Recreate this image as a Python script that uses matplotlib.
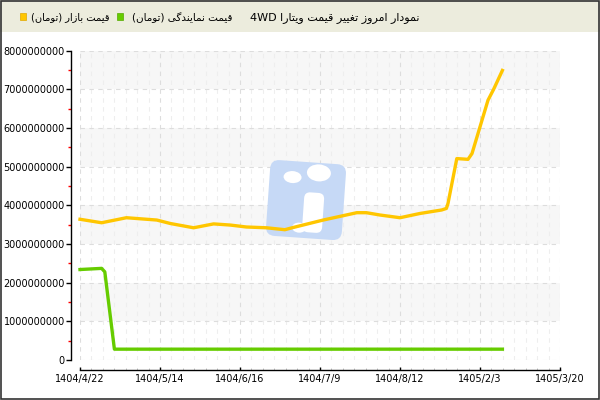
import numpy as np
import matplotlib
matplotlib.use('Agg')
import matplotlib.pyplot as plt
import matplotlib.patches as mpatches
import matplotlib.transforms as mtrans
from matplotlib.ticker import MultipleLocator, FuncFormatter

# x is measured in tick intervals (0 = 1404/4/22, 6 = 1405/3/20)
tick_labels = ['1404/4/22', '1404/5/14', '1404/6/16', '1404/7/9', '1404/8/12', '1405/2/3', '1405/3/20']

market_x = [0, 0.27, 0.58, 0.96, 1.13, 1.42, 1.67, 1.88, 2.08, 2.33, 2.56, 2.67, 3.04, 3.46,
            3.58, 3.75, 4.0, 4.25, 4.52, 4.58, 4.60, 4.71, 4.85, 4.90, 5.0, 5.10, 5.17, 5.28]
market_y = [3.64, 3.55, 3.68, 3.62, 3.53, 3.42, 3.52, 3.49, 3.44, 3.42, 3.37, 3.43, 3.62, 3.81,
            3.81, 3.75, 3.68, 3.79, 3.88, 3.92, 4.05, 5.21, 5.19, 5.34, 6.03, 6.72, 7.0, 7.49]

dealer_x = [0, 0.27, 0.31, 0.43, 5.28]
dealer_y = [2.34, 2.37, 2.28, 0.28, 0.28]

market_y = np.array(market_y) * 1e9
dealer_y = np.array(dealer_y) * 1e9

yellow = '#FFC600'
green = '#66CC00'

# simple persian shaping (presentation forms), matplotlib has no RTL layout
FORMS = {
    'ا': ('\uFE8D', '\uFE8E', None, None),
    'ب': ('\uFE8F', '\uFE90', '\uFE91', '\uFE92'),
    'ت': ('\uFE95', '\uFE96', '\uFE97', '\uFE98'),
    'د': ('\uFEA9', '\uFEAA', None, None),
    'ر': ('\uFEAD', '\uFEAE', None, None),
    'ز': ('\uFEAF', '\uFEB0', None, None),
    'غ': ('\uFECD', '\uFECE', '\uFECF', '\uFED0'),
    'ق': ('\uFED5', '\uFED6', '\uFED7', '\uFED8'),
    'م': ('\uFEE1', '\uFEE2', '\uFEE3', '\uFEE4'),
    'ن': ('\uFEE5', '\uFEE6', '\uFEE7', '\uFEE8'),
    'و': ('\uFEED', '\uFEEE', None, None),
    'ی': ('\uFBFC', '\uFBFD', '\uFBFE', '\uFBFF'),
    'گ': ('\uFB92', '\uFB93', '\uFB94', '\uFB95'),
}


def shape(word):
    out = []
    for i, ch in enumerate(word):
        f = FORMS[ch]
        prev_join = i > 0 and FORMS[word[i - 1]][2] is not None
        next_join = f[2] is not None and i < len(word) - 1
        if prev_join and next_join:
            g = f[3]
        elif prev_join:
            g = f[1]
        elif next_join:
            g = f[2]
        else:
            g = f[0]
        out.append(g)
    return ''.join(reversed(out))


title_words = ['نمودار', 'امروز', 'تغییر', 'قیمت', 'ویتارا']
title_txt = '4WD ' + ' '.join(shape(w) for w in reversed(title_words))
dealer_txt = '(' + shape('تومان') + ') ' + shape('نمایندگی') + ' ' + shape('قیمت')
market_txt = '(' + shape('تومان') + ') ' + shape('بازار') + ' ' + shape('قیمت')

plt.rcParams['font.family'] = ['DejaVu Sans']

fig = plt.figure(figsize=(6, 4), dpi=100)
ax = fig.add_axes([80 / 600, 0.1, 480 / 600, (360 - 50.7) / 400])

# header bar
fig.patches.append(mpatches.Rectangle((0, 1 - 32 / 400), 1, 32 / 400, transform=fig.transFigure,
                                      facecolor='#ECECDD', edgecolor='none', zorder=0))
fig.patches.append(mpatches.Rectangle((0.001, 0.002), 0.998, 0.996, transform=fig.transFigure,
                                      facecolor='none', edgecolor='#333333', lw=1.2, zorder=5))
ty = 1 - 17.5 / 400
fig.patches.append(mpatches.Rectangle((20 / 600, ty - 3 / 400), 6 / 600, 7 / 400, transform=fig.transFigure,
                                      facecolor=yellow, edgecolor='#E0A800', lw=0.5))
fig.patches.append(mpatches.Rectangle((117 / 600, ty - 3 / 400), 6 / 600, 7 / 400, transform=fig.transFigure,
                                      facecolor=green, edgecolor='#55AA00', lw=0.5))
fig.text(110 / 600, ty, market_txt, fontsize=7.1, va='center', ha='right')
fig.text(233 / 600, ty, dealer_txt, fontsize=7.5, va='center', ha='right')
fig.text(420 / 600, ty, title_txt, fontsize=8, va='center', ha='right')

# alternating bands
for lo in [1, 3, 5, 7]:
    ax.axhspan(lo * 1e9, (lo + 1) * 1e9, color='#F7F7F7', zorder=0, lw=0)

# watermark logo in pixel coordinates
px = mtrans.Affine2D().scale(1 / 600, 1 / 400) + fig.transFigure
rot = mtrans.Affine2D().rotate_deg_around(305, 200, -4)
logo = mpatches.FancyBboxPatch((268, 162), 76, 76, boxstyle='round,pad=0,rounding_size=9',
                               transform=rot + px, facecolor='#C6D9F6', edgecolor='none', zorder=1)
ax.add_patch(logo)
ax.add_patch(mpatches.Ellipse((291, 222), 18, 12, transform=rot + px, facecolor='white',
                              edgecolor='none', zorder=1.1))
ax.add_patch(mpatches.Ellipse((317, 228), 24, 17, transform=rot + px, facecolor='white',
                              edgecolor='none', zorder=1.1))
ax.add_patch(mpatches.FancyBboxPatch((304, 168), 20, 40, boxstyle='round,pad=0,rounding_size=6',
                                     transform=rot + px, facecolor='white', edgecolor='none', zorder=1.1))
ax.add_patch(mpatches.Ellipse((301, 172), 14, 10, transform=rot + px, facecolor='white',
                              edgecolor='none', zorder=1.1))

ax.plot(market_x, market_y, color=yellow, lw=2.4, solid_joinstyle='round', zorder=3, clip_on=False)
ax.plot(dealer_x, dealer_y, color=green, lw=2.4, solid_joinstyle='round', zorder=3, clip_on=False)

ax.set_xlim(0, 6)
ax.set_ylim(0, 8e9)
ax.set_facecolor('white')

ax.xaxis.set_major_locator(MultipleLocator(1))
ax.xaxis.set_minor_locator(MultipleLocator(1 / 7))
ax.set_xticks(range(len(tick_labels)))
ax.set_xticklabels(tick_labels)
ax.yaxis.set_major_locator(MultipleLocator(1e9))
ax.yaxis.set_minor_locator(MultipleLocator(5e8))
ax.yaxis.set_major_formatter(FuncFormatter(lambda v, p: f'{v:.0f}'))

ax.grid(True, which='major', color='#DDDDDD', ls=(0, (4, 4)), lw=0.8, zorder=0.5)
ax.grid(True, which='minor', axis='x', color='#EEEEEE', ls=(0, (4, 4)), lw=0.8, zorder=0.5)
ax.set_axisbelow(True)

for s in ['top', 'right']:
    ax.spines[s].set_visible(False)
ax.spines['bottom'].set_position(('outward', 7))
ax.spines['left'].set_position(('outward', 6.5))
ax.spines['bottom'].set_linewidth(1)
ax.spines['left'].set_linewidth(1)

ax.tick_params(axis='x', which='major', direction='in', length=2.5, width=1, labelsize=7, pad=3)
ax.tick_params(axis='x', which='minor', direction='in', length=1.5, width=0.6, color='#BBBBBB')
ax.tick_params(axis='y', which='major', direction='out', length=3.5, width=1, labelsize=7, pad=1)
ax.tick_params(axis='y', which='minor', direction='out', length=2.5, width=1, color='red')

fig.savefig('out.png', dpi=100)
